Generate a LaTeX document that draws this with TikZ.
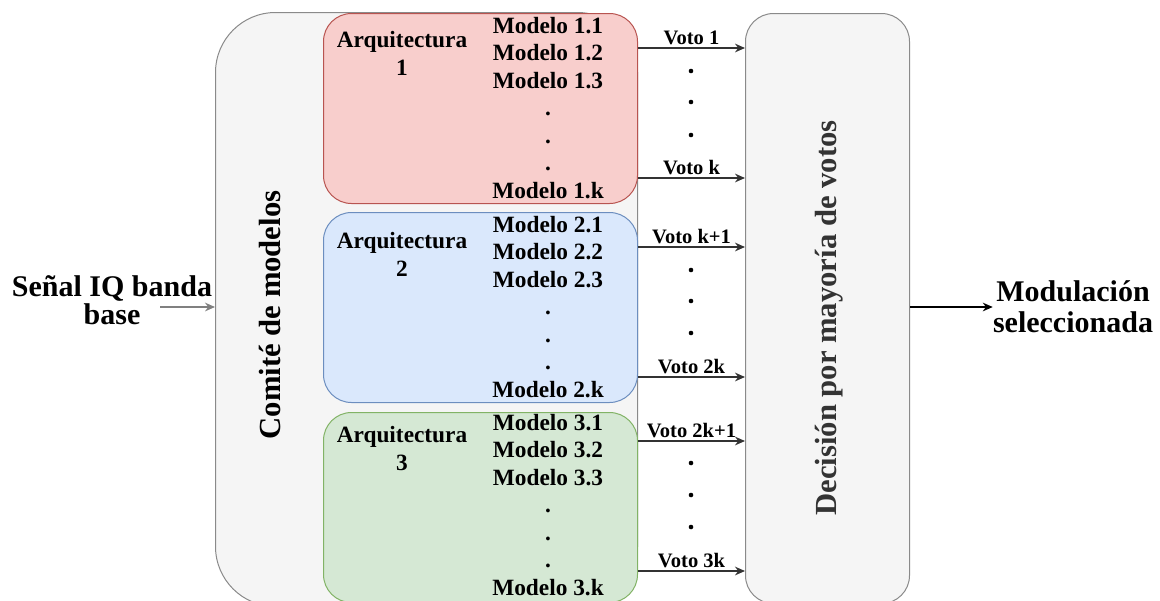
\documentclass[tikz,border=0pt]{standalone}
\usepackage{fontspec}
\setmainfont{Liberation Serif}
\usetikzlibrary{positioning, arrows.meta}

\definecolor{rojo}{HTML}{F8CECC}
\definecolor{rojoborde}{HTML}{B85450}
\definecolor{azul}{HTML}{DAE8FC}
\definecolor{azulborde}{HTML}{6C8EBF}
\definecolor{verde}{HTML}{D5E8D4}
\definecolor{verdeborde}{HTML}{82B366}
\definecolor{fondo}{HTML}{F5F5F5}
\definecolor{gris}{HTML}{8A8A8A}
\definecolor{texto}{HTML}{333333}

\begin{document}
\begin{tikzpicture}[x=0.75pt, y=-0.75pt,
		caja/.style={draw=gris, fill=fondo, line width=0.75pt, anchor=north west, inner sep=0pt},
		arq/.style={caja, minimum width=235.5pt, minimum height=142.5pt, rounded corners=21pt},
		titulo/.style={font=\fontsize{17.5}{21}\selectfont\bfseries, align=center, anchor=north, inner sep=0pt},
		lista/.style={font=\fontsize{17.5}{20.6}\selectfont\bfseries, align=center, anchor=north, inner sep=0pt},
		grande/.style={font=\fontsize{23}{27}\selectfont\bfseries, rotate=90, inner sep=0pt},
		flecha/.style={-{Stealth[length=7.5pt, width=6.5pt]}, line width=1.5pt, draw=texto},
		voto/.style={font=\fontsize{15.4}{18}\selectfont\bfseries, above, inner sep=2pt}]
		\clip (0,0) rectangle (1160,600);
		
		% cajas
		\node[caja, minimum width=316.5pt, minimum height=445.5pt, rounded corners=45pt] (comite) at (215,12) {};
		\node[arq, fill=rojo, draw=rojoborde] (arq1) at (323,13) {};
		\node[arq, fill=azul, draw=azulborde] (arq2) at (323,212) {};
		\node[arq, fill=verde, draw=verdeborde] (arq3) at (323,412) {};
		\node[caja, minimum width=123pt, minimum height=442.5pt, rounded corners=21pt] (decision) at (745,13) {};
		
		% textos
		\node[grande] (comitetxt) at (270,315) {Comité de modelos};
		\node[grande, text=texto] (decisiontxt) at (829,318) {Decisión por mayoría de votos};
		\node[font=\fontsize{22.5}{21}\selectfont\bfseries, align=center, inner sep=0pt] (entrada) at (112,300) {Señal IQ banda\\base};
		\node[font=\fontsize{22.5}{23.5}\selectfont\bfseries, align=center, inner sep=0pt] (salida) at (1073,307) {Modulación\\seleccionada};
		
		\node[titulo] (t1) at (402,31) {Arquitectura\\1};
		\node[titulo] (t2) at (402,232) {Arquitectura\\2};
		\node[titulo] (t3) at (402,426) {Arquitectura\\3};
		\node[lista] (m1) at (548,17) {Modelo 1.1\\Modelo 1.2\\Modelo 1.3\\.\\.\\.\\Modelo 1.k};
		\node[lista] (m2) at (548,216) {Modelo 2.1\\Modelo 2.2\\Modelo 2.3\\.\\.\\.\\Modelo 2.k};
		\node[lista] (m3) at (548,414) {Modelo 3.1\\Modelo 3.2\\Modelo 3.3\\.\\.\\.\\Modelo 3.k};
		
		% votos
		\draw[flecha] (arq1.east |- 0,48) -- node[voto] (v1) {Voto 1} (decision.west |- 0,48);
		\draw[flecha] (arq1.east |- 0,178) -- node[voto] (vk) {Voto k} (decision.west |- 0,178);
		\draw[flecha] (arq2.east |- 0,247) -- node[voto] (vk1) {Voto k+1} (decision.west |- 0,247);
		\draw[flecha] (arq2.east |- 0,377) -- node[voto] (v2k) {Voto 2k} (decision.west |- 0,377);
		\draw[flecha] (arq3.east |- 0,441) -- node[voto] (v2k1) {Voto 2k+1} (decision.west |- 0,441);
		\draw[flecha] (arq3.east |- 0,571) -- node[voto] (v3k) {Voto 3k} (decision.west |- 0,571);
		\fill (691,71) circle (2.3) (691,102) circle (2.3) (691,135) circle (2.3);
		\fill (691,270) circle (2.3) (691,301) circle (2.3) (691,333) circle (2.3);
		\fill (691,463) circle (2.3) (691,495) circle (2.3) (691,527) circle (2.3);
		
		% entrada y salida
		\coordinate (inicio) at (160,307);
		\draw[flecha, draw=gray] (inicio) -- (comite.west |- inicio);
		\draw[flecha, draw=black, line width=1.2pt] (decision.east |- salida.west) -- (salida.west);
	\end{tikzpicture}
\end{document}
